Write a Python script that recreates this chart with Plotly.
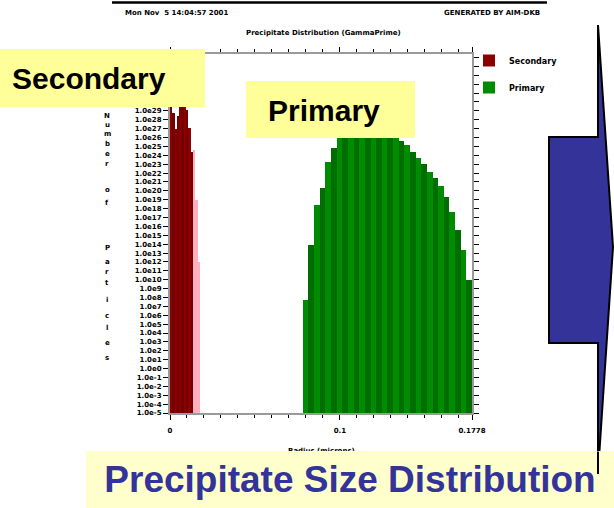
import plotly.graph_objects as go

# ---------------- data ----------------
secondary_radius = [0.000675, 0.002025, 0.003375, 0.004725, 0.006075, 0.007425,
                    0.008775, 0.010125, 0.011475, 0.012825, 0.014175, 0.015525, 0.016875]
secondary_count = [6.3e30, 6.3e28, 1.0e27, 2.5e28, 6.3e29, 5.0e30, 1.6e30, 1.3e29,
                   1.3e27, 2.5e24, 4.0e24, 1.0e19, 1.0e12]

primary_radius = [0.07986, 0.08318, 0.08650, 0.08982, 0.09314, 0.09646, 0.09978, 0.10310,
                  0.10642, 0.10974, 0.11306, 0.11638, 0.11970, 0.12302, 0.12634, 0.12966,
                  0.13298, 0.13630, 0.13962, 0.14294, 0.14626, 0.14958, 0.15290, 0.15622,
                  0.15954, 0.16286, 0.16618, 0.16950, 0.17282, 0.17614]
primary_count = [5.0e7, 8.0e13, 2.5e18, 2.0e20, 1.6e23, 6.3e24, 2.0e26, 2.0e27,
                 1.6e28, 6.3e28, 1.3e29, 1.3e29, 8.0e28, 2.5e28, 8.0e27, 1.6e27,
                 2.5e26, 4.0e25, 1.3e25, 2.5e24, 5.0e23, 1.0e23, 1.3e22, 2.5e21,
                 3.2e20, 2.0e19, 4.0e17, 4.0e15, 2.5e13, 1.0e10]

y_tick_exponents = list(range(-5, 36))
# labels above 1.0e29 are hidden under the "Secondary" call-out in the reference
y_tick_labels = [("1.0e%d" % k) if k <= 29 else "" for k in y_tick_exponents]
x_tick_values = [0, 0.1, 0.1778]
x_tick_labels = ["0", "0.1", "0.1778"]

header_left = "Mon Nov\u00a0 5 14:04:57 2001"
header_right = "GENERATED BY AIM-DKB"
chart_title = "Precipitate Distribution (GammaPrime)"
x_title = "Radius (microns)"
y_title = "Number of Particles"
slide_title = "Precipitate Size Distribution"

# ---------------- layout helpers ----------------
W, H = 614, 508
L, R, T, B = 170, 472, 54, 413          # plot area in pixels
SEC_W, PRI_W = 0.00135, 0.00332          # bar widths (microns)
N_CORE = 10                              # dark-red bars before the pink tail
CF = "DejaVu Sans"
BF = "Liberation Sans"
# vertical pixel positions of the stacked y-title letters (spaces skipped)
LETTER_Y = [116, 125, 134, 144, 154, 164, 190, 203, 248, 262, 272, 283, 300, 316, 328, 343, 358]


def px(x):
    return (x - L) / (R - L)


def py(y):
    return (B - y) / (B - T)


sec_colors = [("#8b0000" if i % 2 == 0 else "#740000") if i < N_CORE else "#ffb0c0"
              for i in range(len(secondary_radius))]
pri_colors = ["#008c00" if i % 2 == 0 else "#006d00" for i in range(len(primary_radius))]

fig = go.Figure()
fig.add_trace(go.Bar(name="Secondary", x=secondary_radius, y=secondary_count, width=SEC_W,
                     legendgroup="s", marker=dict(color=sec_colors, line=dict(width=0))))
fig.add_trace(go.Bar(name="Primary", x=primary_radius, y=primary_count, width=PRI_W,
                     legendgroup="p", marker=dict(color=pri_colors, line=dict(width=0))))

axis_common = dict(showline=True, linecolor="#9a9a9a", linewidth=2, mirror="ticks",
                   ticks="outside", ticklen=5, tickcolor="black", showgrid=False,
                   zeroline=False, automargin=False,
                   tickfont=dict(family=CF, size=7, color="black", weight="bold"))

fig.update_layout(
    width=W, height=H, autosize=False,
    margin=dict(l=L, r=W - R, t=T, b=H - B, pad=0),
    barmode="overlay", bargap=0,
    plot_bgcolor="white", paper_bgcolor="white",
    xaxis=dict(range=[0, 0.1778], tickmode="array", tickvals=x_tick_values,
               ticktext=x_tick_labels, ticklabelstandoff=5,
               minor=dict(dtick=0.01, tick0=0, ticklen=3, ticks="outside",
                          tickcolor="black", showgrid=False),
               **axis_common),
    yaxis=dict(type="log", range=[-5, 35.4], tickmode="array",
               tickvals=[10.0 ** k for k in y_tick_exponents], ticktext=y_tick_labels,
               **axis_common),
    legend=dict(x=px(469), y=py(46), xanchor="left", yanchor="top",
                bgcolor="rgba(0,0,0,0)", tracegroupgap=8, itemwidth=30,
                font=dict(family=CF, size=8, color="black", weight="bold")),
    showlegend=True,
)

shapes = []
# header rule
shapes.append(dict(type="line", xref="paper", yref="paper", x0=px(112), x1=px(547),
                   y0=py(2.5), y1=py(2.5), line=dict(color="black", width=2.5)))
# yellow boxes
shapes.append(dict(type="rect", xref="paper", yref="paper", x0=px(0), x1=px(205),
                   y0=py(107), y1=py(49), fillcolor="#FFFF99", line=dict(width=0)))
shapes.append(dict(type="rect", xref="paper", yref="paper", x0=px(246), x1=px(415),
                   y0=py(138), y1=py(81), fillcolor="#FFFF99", line=dict(width=0)))
# blue arrow
arrow_pts = [(549, 137), (598, 137), (598, 25), (613, 247), (598, 473), (598, 343), (549, 343)]
path = "M " + " L ".join("%f,%f" % (px(a), py(b)) for a, b in arrow_pts) + " Z"
shapes.append(dict(type="path", xref="paper", yref="paper", path=path,
                   fillcolor="#333399", line=dict(color="black", width=2)))
fig.update_layout(shapes=shapes)

annotations = []


def ann(text, x, y, size, family=CF, color="black", xanchor="center", yanchor="middle",
        weight="bold", **kw):
    d = dict(text=text, x=px(x), y=py(y), xref="paper", yref="paper", showarrow=False,
             xanchor=xanchor, yanchor=yanchor,
             font=dict(family=family, size=size, color=color, weight=weight))
    d.update(kw)
    return d


annotations.append(ann(header_left, 123, 13, 7, xanchor="left"))
annotations.append(ann(header_right, 542, 13, 7, xanchor="right"))
annotations.append(ann(chart_title, 323, 33, 7))
annotations.append(ann(x_title, 321, 451, 7))

# stacked y-axis title
letters = [ch for ch in y_title if ch != " "]
for ch, ly in zip(letters, LETTER_Y):
    annotations.append(ann(ch, 107, ly, 7))

annotations.append(ann("Secondary", 10, 78, 30, family=BF, xanchor="left"))
annotations.append(ann("Primary", 324, 110, 30, family=BF))
# bottom banner (annotation so it covers the lower half of the axis title)
annotations.append(dict(text=slide_title, x=px(350), y=py(479.5), xref="paper", yref="paper",
                        showarrow=False, xanchor="center", yanchor="middle",
                        width=528, height=57, bgcolor="#FFFFCC", borderpad=0, borderwidth=0,
                        font=dict(family=BF, size=37, color="#333399", weight="bold")))
# arrow stem that lies over the banner
annotations.append(dict(text="", x=px(598), y=py(474), xref="paper", yref="paper",
                        showarrow=True, arrowhead=0, arrowwidth=2, arrowcolor="black",
                        ax=0, ay=-24, standoff=0, startstandoff=0))
fig.update_layout(annotations=annotations)

fig.write_html("out.html", config={"displayModeBar": False},
               post_script="document.body.style.margin='0';document.body.style.overflow='hidden';")
